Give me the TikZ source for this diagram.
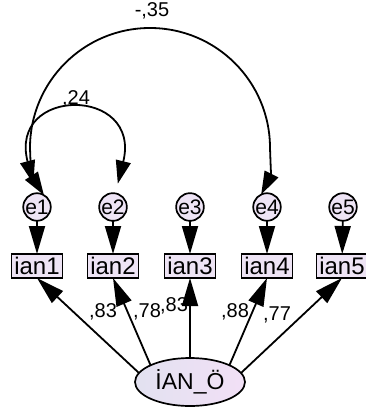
\documentclass[tikz,border=0pt]{standalone}
\usepackage{fontspec}
\setmainfont{Liberation Sans}
\usetikzlibrary{arrows.meta,shapes.geometric}
\definecolor{lav}{RGB}{238,228,245}
\definecolor{lavL}{RGB}{226,225,240}
\definecolor{lavR}{RGB}{242,224,246}
\begin{document}
\begin{tikzpicture}[x=1pt,y=-1pt,
  every node/.style={inner sep=0pt, outer sep=0pt},
  err/.style={circle, draw, line width=1.7pt, fill=lav, minimum size=27pt, font=\fontsize{21}{21}\selectfont},
  obs/.style={rectangle, draw, line width=1.7pt, fill=lav, minimum width=51pt, minimum height=24pt, font=\fontsize{24}{24}\selectfont},
  latent/.style={ellipse, draw, line width=1.7pt, left color=lavL, right color=lavR, minimum width=110pt, minimum height=48pt, font=\fontsize{23}{23}\selectfont},
  coef/.style={font=\fontsize{20}{20}\selectfont},
  arr/.style={line width=1.8pt, -{Triangle[length=28pt,width=16pt]}},
  cov/.style={line width=1.8pt, {Triangle[length=23pt,width=15pt]}-{Triangle[length=23pt,width=15pt]}}
]
\useasboundingbox (0,0) rectangle (366,412);

% observed variables
\node[obs] (ian1) at (37,266) {ian1};
\node[obs] (ian2) at (113,266) {ian2};
\node[obs] (ian3) at (190,266) {ian3};
\node[obs] (ian4) at (267,266) {ian4};
\node[obs] (ian5) at (342,266) {ian5};

% error terms
\node[err] (e1) at (37,207) {e1};
\node[err] (e2) at (113,207) {e2};
\node[err] (e3) at (190,207) {e3};
\node[err] (e4) at (267,207) {e4};
\node[err] (e5) at (343,207) {e5};

% latent
\node[latent] (lat) at (190,382) {İAN\_Ö};

% error -> indicator
\draw[arr] (e1) -- (ian1);
\draw[arr] (e2) -- (ian2);
\draw[arr] (e3) -- (ian3);
\draw[arr] (e4) -- (ian4);
\draw[arr] (e5) -- (ian5);

% latent -> indicators
\draw[arr] (lat.170) -- (ian1.south);
\draw[arr] (lat.157) -- (ian2.south);
\draw[arr] (lat.90) -- (ian3.south);
\draw[arr] (lat.23) -- (ian4.south);
\draw[arr] (lat.10) -- (ian5.south);

% loadings
\node[coef] (l1) at (103,312) {,83};
\node[coef] (l2) at (147,312) {,78};
\node[coef] (l3) at (174,306) {,83};
\node[coef] (l4) at (235,312) {,88};
\node[coef] (l5) at (277,315) {,77};

% covariances
\draw[cov, shorten <=10pt, shorten >=10pt] (e1.95) .. controls (8,86) and (142,86) .. (e2.80);
\draw[cov] (e1.60) .. controls (31,175) .. (30,148)
  .. controls (30,81.7) and (83.7,28) .. (150,28)
  .. controls (216.3,28) and (270,81.7) .. (270,148)
  .. controls (271,175) .. (e4.115);
\node[coef] (c1) at (76,99) {,24};
\node[coef] (c2) at (152,11) {-,35};
\end{tikzpicture}
\end{document}
